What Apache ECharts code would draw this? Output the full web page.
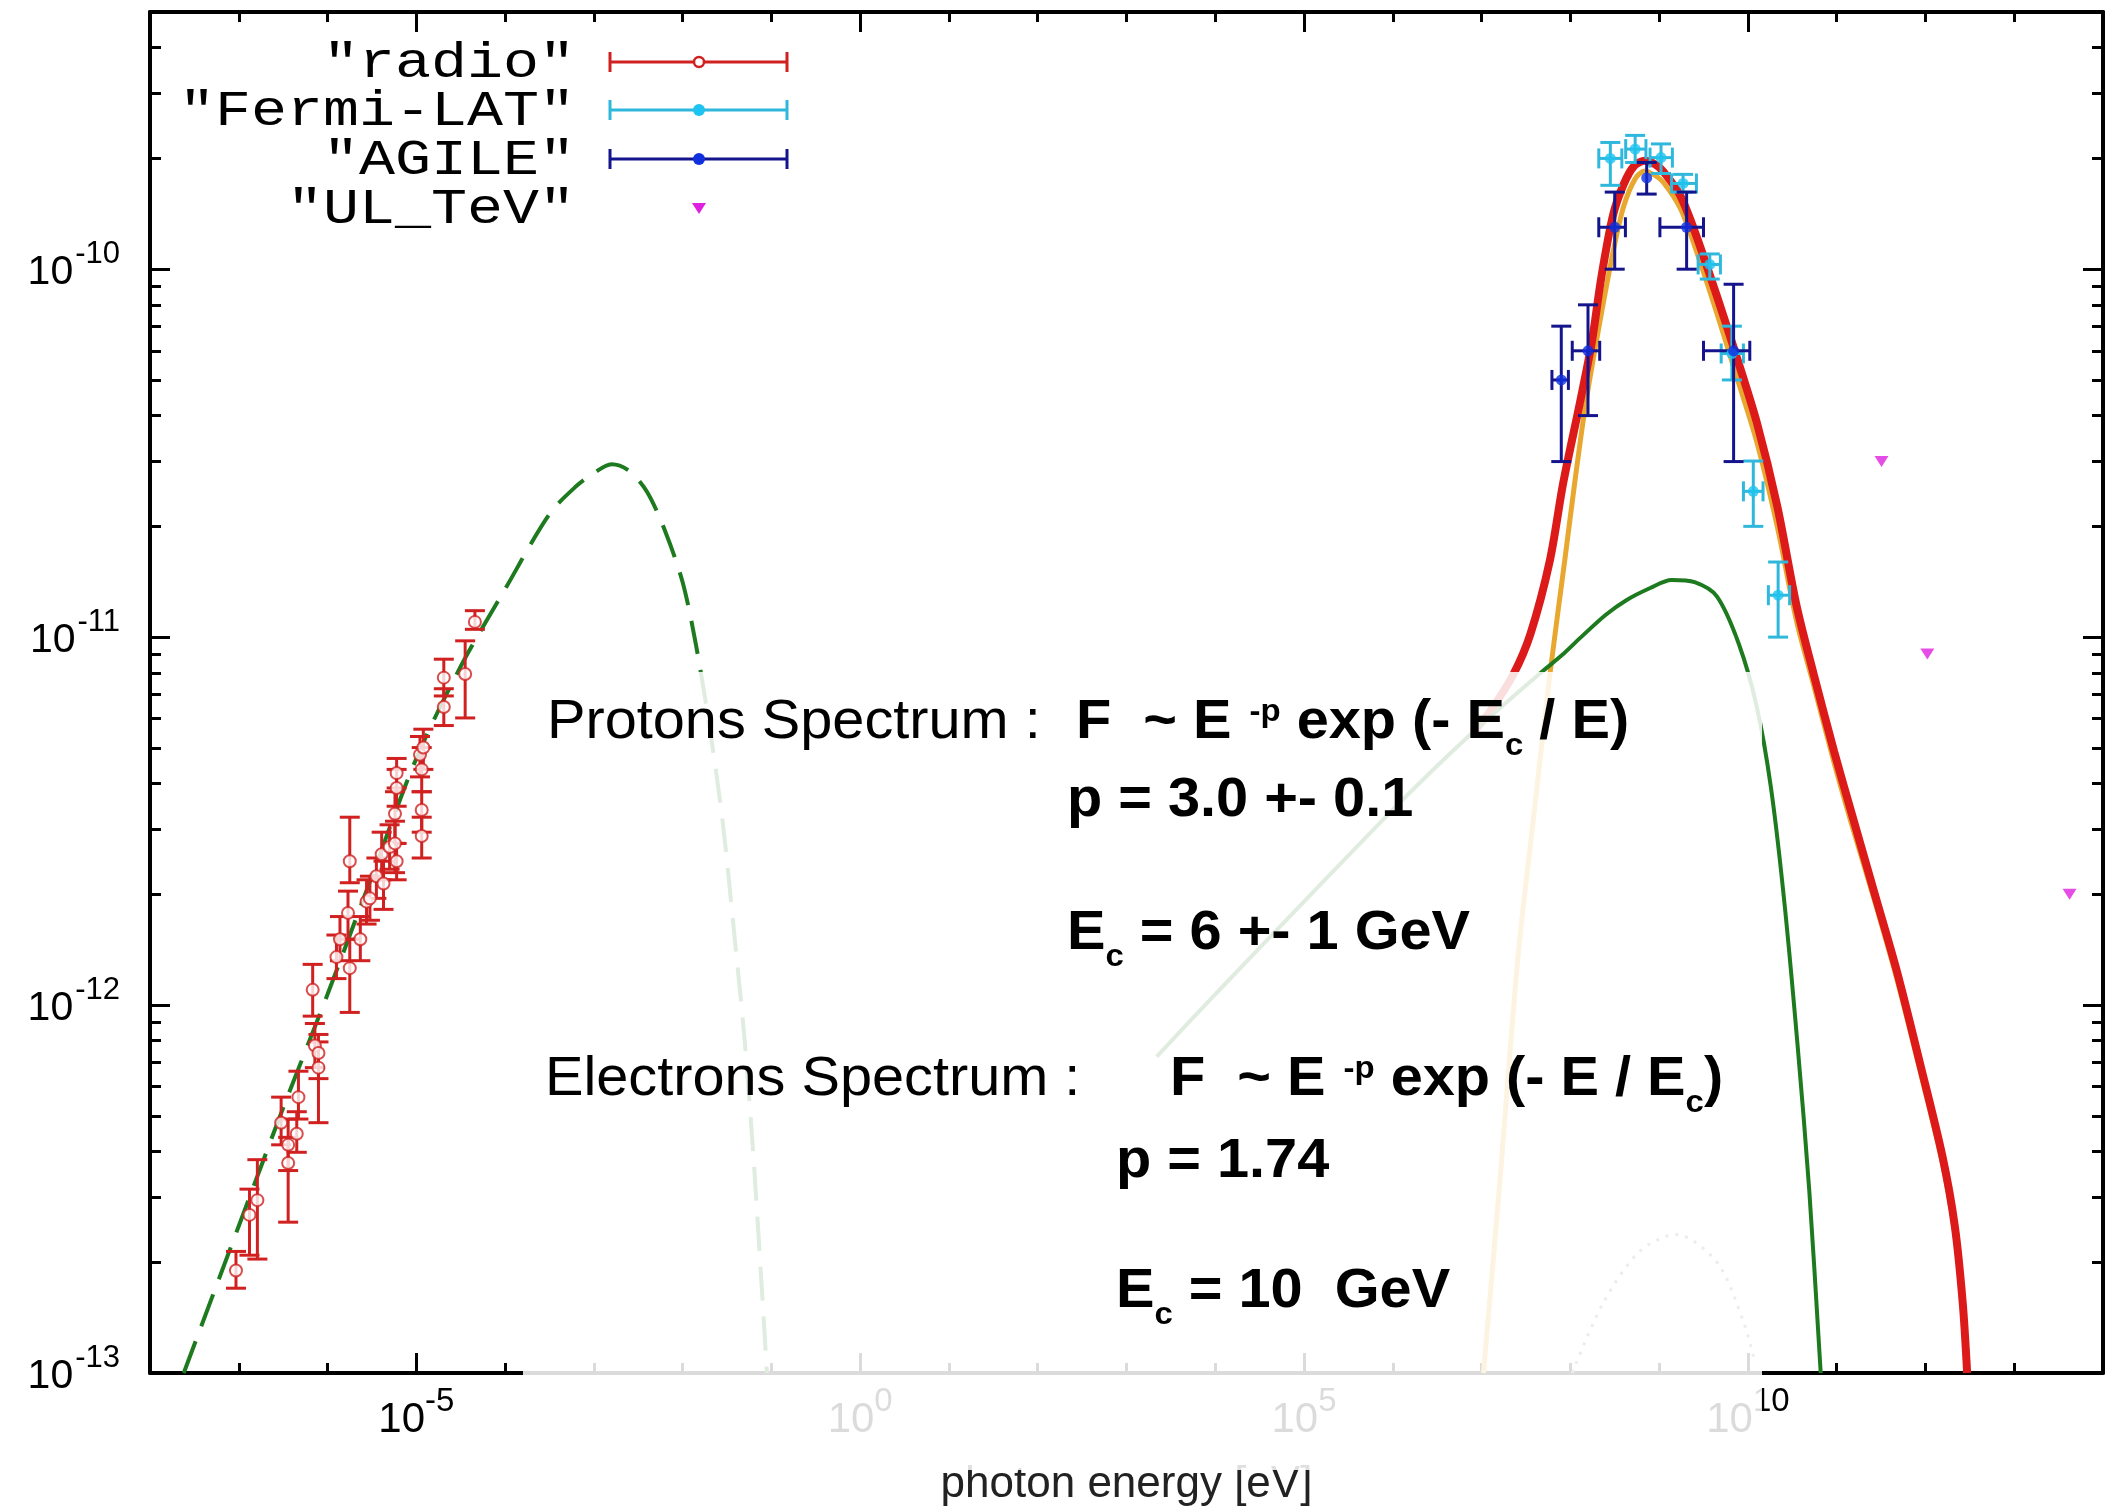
<!DOCTYPE html>
<html>
<head>
<meta charset="utf-8">
<script src="https://cdn.jsdelivr.net/npm/echarts@6/dist/echarts.min.js"></script>
<style>
  html, body { margin: 0; padding: 0; background: #fff; }
  #chart { width: 2109px; height: 1508px; }
</style>
</head>
<body>
<div id="chart"></div>
<script>
// ---------- measured data ----------
// radio points: energy [eV], flux, flux lower / upper error
const radioE = [
  9.3e-8, 1.32e-7, 1.62e-7, 3.0e-7, 3.6e-7, 3.6e-7, 4.5e-7, 4.7e-7, 6.8e-7, 7.2e-7,
  7.9e-7, 7.9e-7, 1.26e-6, 1.38e-6, 1.70e-6, 1.78e-6, 1.78e-6, 2.34e-6, 2.75e-6, 3.0e-6,
  3.55e-6, 4.07e-6, 4.27e-6, 5.0e-6, 5.75e-6, 5.75e-6, 6.0e-6, 6.0e-6, 6.0e-6, 1.10e-5,
  1.15e-5, 1.20e-5, 1.15e-5, 1.15e-5, 2.04e-5, 2.04e-5, 3.55e-5, 4.57e-5
];
const radioF = [
  1.90e-13, 2.69e-13, 2.95e-13, 4.79e-13, 4.17e-13, 3.72e-13, 4.47e-13, 5.62e-13, 1.10e-12, 7.76e-13,
  7.41e-13, 6.76e-13, 1.35e-12, 1.51e-12, 1.78e-12, 2.46e-12, 1.26e-12, 1.51e-12, 1.91e-12, 1.95e-12,
  2.24e-12, 2.57e-12, 2.14e-12, 2.69e-12, 3.31e-12, 2.75e-12, 4.27e-12, 3.89e-12, 2.46e-12, 4.79e-12,
  4.37e-12, 5.01e-12, 3.39e-12, 2.88e-12, 7.76e-12, 6.46e-12, 7.94e-12, 1.10e-11
];
const radioFmin = [
  1.70e-13, 2.09e-13, 2.04e-13, 4.17e-13, 3.55e-13, 2.57e-13, 3.98e-13, 4.90e-13, 9.33e-13, 6.76e-13,
  6.31e-13, 4.79e-13, 1.18e-12, 1.32e-12, 1.51e-12, 2.15e-12, 9.55e-13, 1.32e-12, 1.66e-12, 1.70e-12,
  1.95e-12, 2.19e-12, 1.82e-12, 2.34e-12, 2.75e-12, 2.29e-12, 3.89e-12, 3.47e-12, 2.19e-12, 4.17e-12,
  3.80e-12, 4.37e-12, 2.95e-12, 2.51e-12, 6.92e-12, 5.75e-12, 6.03e-12, 1.05e-11
];
const radioFmax = [
  2.14e-13, 3.16e-13, 3.80e-13, 5.62e-13, 4.90e-13, 4.37e-13, 5.13e-13, 6.61e-13, 1.29e-12, 8.91e-13,
  8.32e-13, 7.94e-13, 1.55e-12, 1.74e-12, 2.04e-12, 3.24e-12, 1.51e-12, 1.74e-12, 2.19e-12, 2.24e-12,
  2.51e-12, 2.95e-12, 2.46e-12, 3.09e-12, 3.80e-12, 3.16e-12, 4.68e-12, 4.37e-12, 2.75e-12, 5.37e-12,
  5.01e-12, 5.62e-12, 3.80e-12, 3.24e-12, 8.71e-12, 7.24e-12, 9.77e-12, 1.18e-11
];

// Fermi-LAT
const fermiE    = [2.82e8, 5.37e8, 1.05e9, 1.86e9, 3.72e9, 6.6e9, 1.15e10, 2.19e10];
const fermiEmin = [2.09e8, 4.2e8, 7.9e8, 1.38e9, 2.75e9, 5.0e9, 8.9e9, 1.7e10];
const fermiEmax = [3.8e8, 7.1e8, 1.41e9, 2.63e9, 4.9e9, 8.9e9, 1.48e10, 2.95e10];
const fermiF    = [2.0e-10, 2.12e-10, 2.01e-10, 1.71e-10, 1.03e-10, 5.9e-11, 2.49e-11, 1.30e-11];
const fermiFmin = [1.69e-10, 1.95e-10, 1.82e-10, 1.62e-10, 9.4e-11, 5.0e-11, 2.0e-11, 1.0e-11];
const fermiFmax = [2.21e-10, 2.31e-10, 2.19e-10, 1.81e-10, 1.10e-10, 7.0e-11, 3.01e-11, 1.6e-11];

// AGILE
const agileE    = [7.9e7, 1.58e8, 3.16e8, 7.24e8, 2.04e9, 6.9e9];
const agileEmin = [6.2e7, 1.05e8, 2.09e8, 7.24e8, 1.02e9, 3.16e9];
const agileEmax = [9.5e7, 2.14e8, 4.17e8, 7.24e8, 3.16e9, 1.05e10];
const agileF    = [5.0e-11, 6.0e-11, 1.30e-10, 1.77e-10, 1.30e-10, 6.0e-11];
const agileFmin = [3.0e-11, 4.0e-11, 1.0e-10, 1.6e-10, 1.0e-10, 3.0e-11];
const agileFmax = [7.0e-11, 8.0e-11, 1.62e-10, 1.95e-10, 1.62e-10, 9.1e-11];

// TeV upper limits
const ulE = [3.2e11, 1.05e12, 4.2e13];
const ulF = [3.0e-11, 9.0e-12, 2.0e-12];

// model: synchrotron (electrons)
const syncE = [2.4e-8, 1e-7, 3.16e-7, 1e-6, 3.16e-6, 1e-5, 3.16e-5, 1e-4, 3.16e-4, 6.31e-4,
  1e-3, 1.58e-3, 2.51e-3, 3.98e-3, 6.31e-3, 1e-2, 1.41e-2, 2.0e-2, 2.82e-2, 3.72e-2,
  5.01e-2, 6.31e-2, 7.94e-2, 8.91e-2];
const syncF = [1.0e-13, 2.51e-13, 5.25e-13, 1.07e-12, 2.24e-12, 4.68e-12, 8.32e-12, 1.35e-11, 2.16e-11, 2.57e-11,
  2.79e-11, 2.95e-11, 2.83e-11, 2.48e-11, 1.95e-11, 1.41e-11, 9.55e-12, 5.75e-12, 3.16e-12, 1.66e-12,
  7.94e-13, 3.80e-13, 1.58e-13, 1.0e-13];

// model: inverse Compton (electrons)
const icE = [2.19e3, 1e4, 1e5, 1.20e6, 7.08e6, 4.47e7, 7.94e7, 1.32e8, 2.51e8, 4.27e8,
  7.94e8, 1.38e9, 2.51e9, 4.47e9, 7.94e9, 1.26e10, 1.82e10, 2.57e10, 3.63e10, 4.90e10,
  6.61e10];
const icF = [7.24e-13, 1.07e-12, 1.91e-12, 3.55e-12, 5.37e-12, 7.94e-12, 8.91e-12, 1.0e-11, 1.15e-11, 1.26e-11,
  1.36e-11, 1.43e-11, 1.41e-11, 1.29e-11, 9.55e-12, 6.46e-12, 3.89e-12, 1.91e-12, 7.76e-13, 3.16e-13,
  1.0e-13];

// model: pi0 decay (protons)
const pi0E = [1.05e7, 1.58e7, 2.57e7, 3.98e7, 5.89e7, 8.71e7, 1.12e8, 1.48e8, 2.09e8, 3.02e8,
  3.98e8, 5.37e8, 6.92e8, 8.91e8, 1.12e9, 1.74e9, 2.63e9, 4.47e9, 7.41e9, 1.26e10,
  2.14e10, 3.55e10, 5.50e10, 9.33e10, 1.48e11, 2.69e11, 4.79e11, 8.71e11, 1.55e12, 2.14e12,
  2.63e12, 2.88e12];
const pi0F = [1.0e-13, 3.16e-13, 1.35e-12, 3.47e-12, 7.94e-12, 1.64e-11, 2.63e-11, 4.27e-11, 6.92e-11, 1.11e-10,
  1.48e-10, 1.76e-10, 1.85e-10, 1.80e-10, 1.72e-10, 1.46e-10, 1.12e-10, 7.59e-11, 5.13e-11, 3.39e-11,
  2.0e-11, 1.10e-11, 7.41e-12, 4.57e-12, 3.09e-12, 1.91e-12, 1.17e-12, 6.61e-13, 3.72e-13, 2.40e-13,
  1.48e-13, 1.0e-13];

// model: total
const totE = [7.94e6, 1.26e7, 2.29e7, 3.55e7, 5.89e7, 8.32e7, 1.29e8, 1.74e8, 2.24e8, 3.02e8,
  3.98e8, 5.25e8, 6.92e8, 8.91e8, 1.12e9, 1.74e9, 2.63e9, 4.47e9, 7.41e9, 1.26e10,
  2.14e10, 3.55e10, 5.50e10, 9.33e10, 1.48e11, 2.69e11, 4.79e11, 8.71e11, 1.55e12, 2.14e12,
  2.63e12, 2.95e12];
const totF = [5.50e-12, 6.31e-12, 7.94e-12, 1.02e-11, 1.62e-11, 2.63e-11, 4.37e-11, 6.31e-11, 9.55e-11, 1.40e-10,
  1.70e-10, 1.91e-10, 1.97e-10, 1.93e-10, 1.84e-10, 1.58e-10, 1.23e-10, 8.45e-11, 5.81e-11, 3.83e-11,
  2.27e-11, 1.21e-11, 7.94e-12, 4.90e-12, 3.31e-12, 2.0e-12, 1.23e-12, 6.92e-13, 3.89e-13, 2.51e-13,
  1.55e-13, 1.0e-13];

// model: bremsstrahlung
const bremE = [1.05e8, 2.34e8, 6.03e8, 1.55e9, 4.47e9, 8.91e9, 1.20e10];
const bremF = [1.0e-13, 1.55e-13, 2.14e-13, 2.38e-13, 2.0e-13, 1.38e-13, 1.07e-13];

// axes
const eMin = 1e-8, eMax = 1e14;
const fMin = 1e-13, fMax = 5e-10;
const xLabelExp = [-5, 0, 5, 10];
const yLabelExp = [-13, -12, -11, -10];

// ---------- helpers ----------
const L10 = Math.log10;
const SANS = '"Liberation Sans", Arial, Helvetica, sans-serif';
const MONO = '"Courier New", "Liberation Mono", monospace';

const C_RADIO = '#d02020';
const C_FERMI_BAR = '#2fb8dc', C_FERMI_PT = '#1ec3f0';
const C_AGILE_BAR = '#14148c', C_AGILE_PT = '#1030e0';
const C_UL = '#e020e0';
const C_TOTAL = '#dc1a1a', C_PI0 = '#e8a830', C_GREEN = '#1e7a1e', C_BREMS = '#6a8a6a';

const xMinExp = L10(eMin), xMaxExp = L10(eMax);
const yMinExp = L10(fMin), yMaxExp = L10(fMax);

const curve = (E, F) => E.map((e, i) => [L10(e), L10(F[i])]);
const bars = (E, Emin, Emax, F, Fmin, Fmax) =>
  E.map((e, i) => [L10(e), L10(F[i]), L10(Emin[i]), L10(Emax[i]), L10(Fmin[i]), L10(Fmax[i])]);

// minor ticks of the flux axis (2..9 within each decade)
const yMinor = [];
for (let d = -13; d <= -10; d++) {
  for (let k = 2; k <= 9; k++) {
    const v = d + L10(k);
    if (v < yMaxExp - 1e-6) yMinor.push(v);
  }
}

function errorBarSeries(data, color, lw, cap) {
  return {
    type: 'custom',
    silent: true,
    z: 4,
    encode: { x: 0, y: 1 },
    data: data,
    renderItem: function (params, api) {
      const x = api.value(0), y = api.value(1);
      const x0 = api.value(2), x1 = api.value(3), y0 = api.value(4), y1 = api.value(5);
      const c = api.coord([x, y]);
      const kids = [];
      const seg = (a, b, p, q) => kids.push({
        type: 'line', shape: { x1: a, y1: b, x2: p, y2: q },
        style: { stroke: color, lineWidth: lw, fill: null }
      });
      if (y1 > y0) {
        const lo = api.coord([x, y0]), hi = api.coord([x, y1]);
        seg(c[0], lo[1], c[0], hi[1]);
        seg(c[0] - cap / 2, lo[1], c[0] + cap / 2, lo[1]);
        seg(c[0] - cap / 2, hi[1], c[0] + cap / 2, hi[1]);
      }
      if (x1 > x0) {
        const l = api.coord([x0, y]), r = api.coord([x1, y]);
        seg(l[0], c[1], r[0], c[1]);
        seg(l[0], c[1] - cap / 2, l[0], c[1] + cap / 2);
        seg(r[0], c[1] - cap / 2, r[0], c[1] + cap / 2);
      }
      return { type: 'group', children: kids };
    }
  };
}

// energy labels: base "10" with a raised exponent
const tickRich = {
  b: { fontFamily: SANS, fontSize: 42, lineHeight: 56, color: '#000', verticalAlign: 'bottom' },
  s: { fontFamily: SANS, fontSize: 33, color: '#000', verticalAlign: 'top' }
};
const powLabel = v => '{b|10}{s|' + Math.round(v) + '}';

const axLine = { color: '#000', width: 4 };
const tickLine = { color: '#000', width: 3 };

const xAxes = [
  { position: 'bottom', interval: 1, line: true, len: 10, labels: true },
  { position: 'bottom', custom: xLabelExp, line: false, len: 20 },
  { position: 'top', interval: 1, line: true, len: 10 },
  { position: 'top', custom: xLabelExp, line: false, len: 20 }
].map(a => ({
  type: 'value', position: a.position, min: xMinExp, max: xMaxExp,
  interval: a.interval,
  axisLine: { show: a.line, onZero: false, lineStyle: axLine },
  axisTick: Object.assign({ inside: true, length: a.len, lineStyle: tickLine },
    a.custom ? { customValues: a.custom } : {}),
  axisLabel: a.labels ? {
    customValues: xLabelExp, formatter: powLabel, rich: tickRich, margin: 12,
    showMinLabel: true, showMaxLabel: true
  } : { show: false },
  splitLine: { show: false },
  name: a.labels ? 'photon energy [eV]' : '',
  nameLocation: 'middle', nameGap: 90,
  nameTextStyle: { fontFamily: SANS, fontSize: 44, color: '#222' }
}));

const yAxes = [
  { position: 'left', custom: yLabelExp, line: true, len: 20 },
  { position: 'left', custom: yMinor, line: false, len: 11 },
  { position: 'right', custom: yLabelExp, line: true, len: 20 },
  { position: 'right', custom: yMinor, line: false, len: 11 }
].map(a => ({
  type: 'value', position: a.position, min: yMinExp, max: yMaxExp,
  axisLine: { show: a.line, onZero: false, lineStyle: axLine },
  axisTick: { inside: true, length: a.len, lineStyle: tickLine, customValues: a.custom },
  axisLabel: { show: false },
  splitLine: { show: false }
}));

// ---------- annotation panel ----------
const annRich = {
  r:   { fontFamily: SANS, fontSize: 56, height: 56, fontWeight: 'normal', fill: '#000', verticalAlign: 'top' },
  b:   { fontFamily: SANS, fontSize: 56, height: 56, fontWeight: 'bold', fill: '#000', verticalAlign: 'top' },
  sup: { fontFamily: SANS, fontSize: 32, height: 32, fontWeight: 'bold', fill: '#000', verticalAlign: 'top', padding: [1, 0, 0, 2] },
  sub: { fontFamily: SANS, fontSize: 32, height: 32, fontWeight: 'bold', fill: '#000', verticalAlign: 'top', padding: [35, 0, 0, 0] }
};
const annLines = [
  { x: 547,  base: 738,  t: '{r|Protons Spectrum :}' },
  { x: 1076, base: 738,  t: '{b|F  ~ E }{sup|-p}{b| exp (- E}{sub|c}{b| / E)}' },
  { x: 1067, base: 816,  t: '{b|p = 3.0 +- 0.1}' },
  { x: 1067, base: 949,  t: '{b|E}{sub|c}{b| = 6 +- 1 GeV}' },
  { x: 545,  base: 1095, t: '{r|Electrons Spectrum :}' },
  { x: 1170, base: 1095, t: '{b|F  ~ E }{sup|-p}{b| exp (- E / E}{sub|c}{b|)}' },
  { x: 1116, base: 1177, t: '{b|p = 1.74}' },
  { x: 1116, base: 1307, t: '{b|E}{sub|c}{b| = 10  GeV}' }
];

const graphics = [
  {
    type: 'rect', z: 10, silent: true,
    shape: { x: 523, y: 672, width: 1239, height: 798 },
    style: { fill: 'rgba(255,255,255,0.86)' }
  }
].concat(annLines.map(l => ({
  type: 'text', z: 20, silent: true, x: l.x, y: l.base - 43, scaleX: 1.03,
  style: { text: l.t, rich: annRich, align: 'left', verticalAlign: 'top' }
})));

// ---------- key ----------
const keyRows = [
  { label: '"radio"',     y: 62,  bar: C_RADIO,     pt: C_RADIO,    kind: 'open' },
  { label: '"Fermi-LAT"', y: 110, bar: C_FERMI_BAR, pt: C_FERMI_PT, kind: 'dot' },
  { label: '"AGILE"',     y: 159, bar: C_AGILE_BAR, pt: C_AGILE_PT, kind: 'dot' },
  { label: '"UL_TeV"',    y: 208, bar: null,        pt: C_UL,       kind: 'tri' }
];
const kx0 = 610, kx1 = 787, kxm = 699;
keyRows.forEach(r => {
  graphics.push({
    type: 'text', z: 20, silent: true, x: 575, y: r.y + 2, scaleX: 1.2,
    style: { text: r.label, fontFamily: MONO, fontSize: 50, fill: '#000', align: 'right', verticalAlign: 'middle' }
  });
  if (r.bar) {
    const st = { stroke: r.bar, lineWidth: 3 };
    graphics.push({ type: 'line', z: 20, silent: true, shape: { x1: kx0, y1: r.y, x2: kx1, y2: r.y }, style: st });
    graphics.push({ type: 'line', z: 20, silent: true, shape: { x1: kx0, y1: r.y - 10, x2: kx0, y2: r.y + 10 }, style: st });
    graphics.push({ type: 'line', z: 20, silent: true, shape: { x1: kx1, y1: r.y - 10, x2: kx1, y2: r.y + 10 }, style: st });
  }
  if (r.kind === 'open') {
    graphics.push({ type: 'circle', z: 21, silent: true, shape: { cx: kxm, cy: r.y, r: 5 },
      style: { fill: '#fff', stroke: r.pt, lineWidth: 2.5 } });
  } else if (r.kind === 'dot') {
    graphics.push({ type: 'circle', z: 21, silent: true, shape: { cx: kxm, cy: r.y, r: 6 },
      style: { fill: r.pt } });
  } else {
    graphics.push({ type: 'polygon', z: 21, silent: true,
      shape: { points: [[kxm - 7, r.y - 5], [kxm + 7, r.y - 5], [kxm, r.y + 6]] },
      style: { fill: r.pt } });
  }
});

// ---------- chart ----------
const chart = echarts.init(document.getElementById('chart'), null, { renderer: 'canvas' });
chart.setOption({
  backgroundColor: '#fff',
  animation: false,
  textStyle: { fontFamily: SANS },
  grid: { left: 150, right: 6, top: 12, bottom: 135, containLabel: false, outerBoundsMode: 'none' },
  xAxis: xAxes,
  yAxis: yAxes,
  series: [
    { type: 'line', name: 'synchrotron', data: curve(syncE, syncF), showSymbol: false, smooth: 0.3, silent: true,
      lineStyle: { color: C_GREEN, width: 4, type: [34, 16] }, z: 2 },
    { type: 'line', name: 'bremsstrahlung', data: curve(bremE, bremF), showSymbol: false, smooth: 0.3, silent: true,
      lineStyle: { color: C_BREMS, width: 3, type: [3, 7] }, z: 2 },
    { type: 'line', name: 'pi0', data: curve(pi0E, pi0F), showSymbol: false, smooth: 0.3, silent: true,
      lineStyle: { color: C_PI0, width: 5 }, z: 2 },
    { type: 'line', name: 'total', data: curve(totE, totF), showSymbol: false, smooth: 0.3, silent: true,
      lineStyle: { color: C_TOTAL, width: 8 }, z: 3 },
    { type: 'line', name: 'inverse Compton', data: curve(icE, icF), showSymbol: false, smooth: 0.3, silent: true,
      lineStyle: { color: C_GREEN, width: 4 }, z: 3 },

    errorBarSeries(bars(radioE, radioE, radioE, radioF, radioFmin, radioFmax), C_RADIO, 3, 20),
    { type: 'scatter', name: 'radio', data: curve(radioE, radioF), symbol: 'emptyCircle', symbolSize: 12,
      itemStyle: { color: C_RADIO, borderWidth: 3 }, silent: true, z: 5 },

    errorBarSeries(bars(fermiE, fermiEmin, fermiEmax, fermiF, fermiFmin, fermiFmax), C_FERMI_BAR, 3, 20),
    { type: 'scatter', name: 'Fermi-LAT', data: curve(fermiE, fermiF), symbol: 'circle', symbolSize: 11,
      itemStyle: { color: C_FERMI_PT }, silent: true, z: 5 },

    errorBarSeries(bars(agileE, agileEmin, agileEmax, agileF, agileFmin, agileFmax), C_AGILE_BAR, 3, 20),
    { type: 'scatter', name: 'AGILE', data: curve(agileE, agileF), symbol: 'circle', symbolSize: 11,
      itemStyle: { color: C_AGILE_PT }, silent: true, z: 5 },

    { type: 'scatter', name: 'UL_TeV', data: curve(ulE, ulF), symbol: 'triangle', symbolRotate: 180,
      symbolSize: [14, 11], itemStyle: { color: C_UL }, silent: true, z: 5 }
  ]
});

// flux tick labels (10 with raised exponent), placed at the axis' own tick positions
const yTickRich = {
  b: { fontFamily: SANS, fontSize: 41, height: 41, fill: '#000', verticalAlign: 'top', padding: [14, 0, 0, 0] },
  s: { fontFamily: SANS, fontSize: 31, height: 31, fill: '#000', verticalAlign: 'top', padding: [0, 0, 0, 2] }
};
const labelRight = chart.convertToPixel({ xAxisIndex: 0 }, xMinExp) - 30;
yLabelExp.forEach(v => {
  const py = chart.convertToPixel({ yAxisIndex: 0 }, v);
  graphics.push({
    type: 'text', z: 5, silent: true, x: labelRight, y: py - 30.5,
    style: { text: '{b|10}{s|' + v + '}', rich: yTickRich, align: 'right', verticalAlign: 'top' }
  });
});

chart.setOption({ graphic: graphics });
</script>
</body>
</html>
